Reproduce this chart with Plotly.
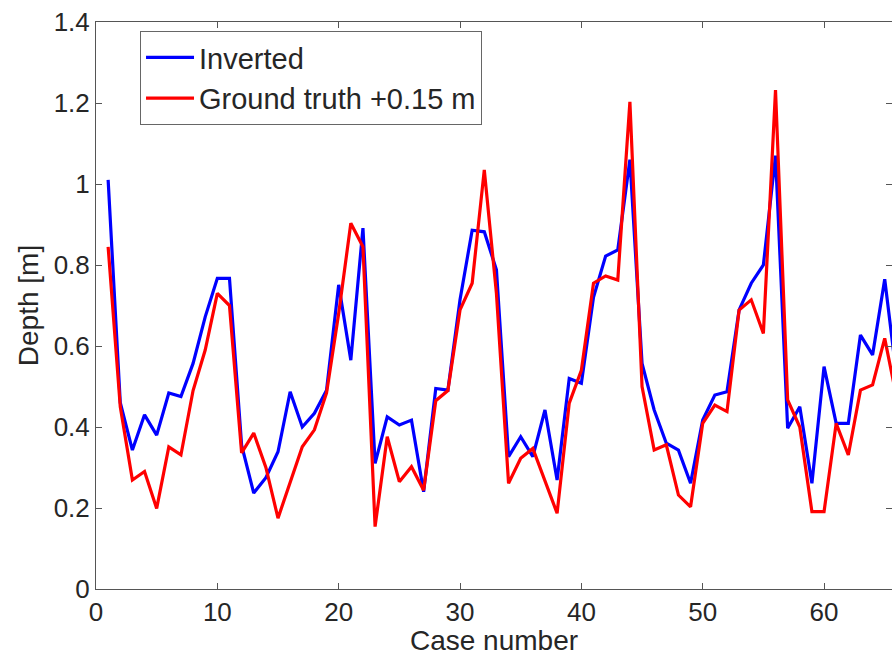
import plotly.graph_objects as go

# Case numbers and depths (m)
case_number = list(range(1, 67))

inverted = [
    1.01, 0.46, 0.343, 0.43, 0.38, 0.484, 0.475, 0.557, 0.672, 0.767,
    0.767, 0.355, 0.237, 0.275, 0.339, 0.487, 0.40, 0.434, 0.491, 0.751,
    0.565, 0.891, 0.31, 0.425, 0.405, 0.417, 0.24, 0.495, 0.491, 0.714,
    0.886, 0.882, 0.788, 0.327, 0.376, 0.327, 0.442, 0.269, 0.52, 0.508,
    0.72, 0.822, 0.837, 1.06, 0.557, 0.442, 0.36, 0.343, 0.261, 0.417,
    0.479, 0.487, 0.689, 0.755, 0.80, 1.07, 0.397, 0.45, 0.261, 0.549,
    0.409, 0.409, 0.627, 0.578, 0.765, 0.52,
]

ground_truth_offset = [
    0.845, 0.45, 0.269, 0.29, 0.199, 0.351, 0.331, 0.49, 0.59, 0.73,
    0.70, 0.336, 0.385, 0.30, 0.175, 0.261, 0.351, 0.393, 0.484, 0.68,
    0.903, 0.845, 0.154, 0.376, 0.265, 0.302, 0.244, 0.465, 0.49, 0.689,
    0.755, 1.035, 0.73, 0.261, 0.323, 0.347, 0.269, 0.187, 0.459, 0.54,
    0.755, 0.773, 0.763, 1.203, 0.50, 0.343, 0.356, 0.232, 0.203, 0.409,
    0.454, 0.438, 0.689, 0.714, 0.631, 1.232, 0.467, 0.40, 0.191, 0.191,
    0.409, 0.331, 0.491, 0.504, 0.619, 0.47,
]

y_ticks = [0, 0.2, 0.4, 0.6, 0.8, 1.0, 1.2, 1.4]
y_tick_labels = ["0", "0.2", "0.4", "0.6", "0.8", "1", "1.2", "1.4"]
x_ticks = [0, 10, 20, 30, 40, 50, 60]

FONT = "Liberation Sans, Arial, Helvetica, sans-serif"
TEXT = "#262626"
AXIS = "#555555"

fig = go.Figure()
fig.add_trace(go.Scatter(
    x=case_number, y=inverted, mode="lines", name="Inverted",
    line=dict(color="#0000ff", width=3.2),
))
fig.add_trace(go.Scatter(
    x=case_number, y=ground_truth_offset, mode="lines",
    name="Ground truth +0.15 m",
    line=dict(color="#ff0000", width=3.2),
))
# placeholder trace so the right-hand tick axis is rendered
fig.add_trace(go.Scatter(
    x=[None], y=[None], yaxis="y2", showlegend=False, hoverinfo="skip",
))

fig.update_layout(
    width=892, height=656,
    margin=dict(l=96, r=0, t=22, b=67),
    paper_bgcolor="white", plot_bgcolor="white",
    font=dict(family=FONT, color=TEXT, size=26),
    showlegend=True,
    legend=dict(
        x=0.0553, y=0.984, xanchor="left", yanchor="top",
        bgcolor="white", bordercolor="#666666", borderwidth=1,
        font=dict(family=FONT, size=29, color=TEXT),
        tracegroupgap=0, itemwidth=48,
    ),
    xaxis=dict(
        range=[0, 65.6], tickvals=x_ticks, ticks="inside", ticklen=6,
        tickcolor=AXIS, showline=True, linecolor=AXIS, linewidth=1,
        mirror="ticks", showgrid=False, zeroline=False,
        tickfont=dict(size=26),
        title=dict(text="Case number", font=dict(size=28), standoff=3),
    ),
    yaxis=dict(
        range=[0, 1.4], tickvals=y_ticks, ticktext=y_tick_labels,
        ticks="inside", ticklen=6, tickcolor=AXIS, showline=True,
        linecolor=AXIS, linewidth=1, showgrid=False, zeroline=False,
        tickfont=dict(size=26),
        title=dict(text="Depth [m]", font=dict(size=28), standoff=6),
    ),
    yaxis2=dict(
        range=[0, 1.4], tickvals=y_ticks, overlaying="y", side="right",
        ticks="inside", ticklen=6, tickcolor=AXIS, showticklabels=False,
        showline=False, showgrid=False, zeroline=False,
    ),
)

fig.write_html("out.html")
